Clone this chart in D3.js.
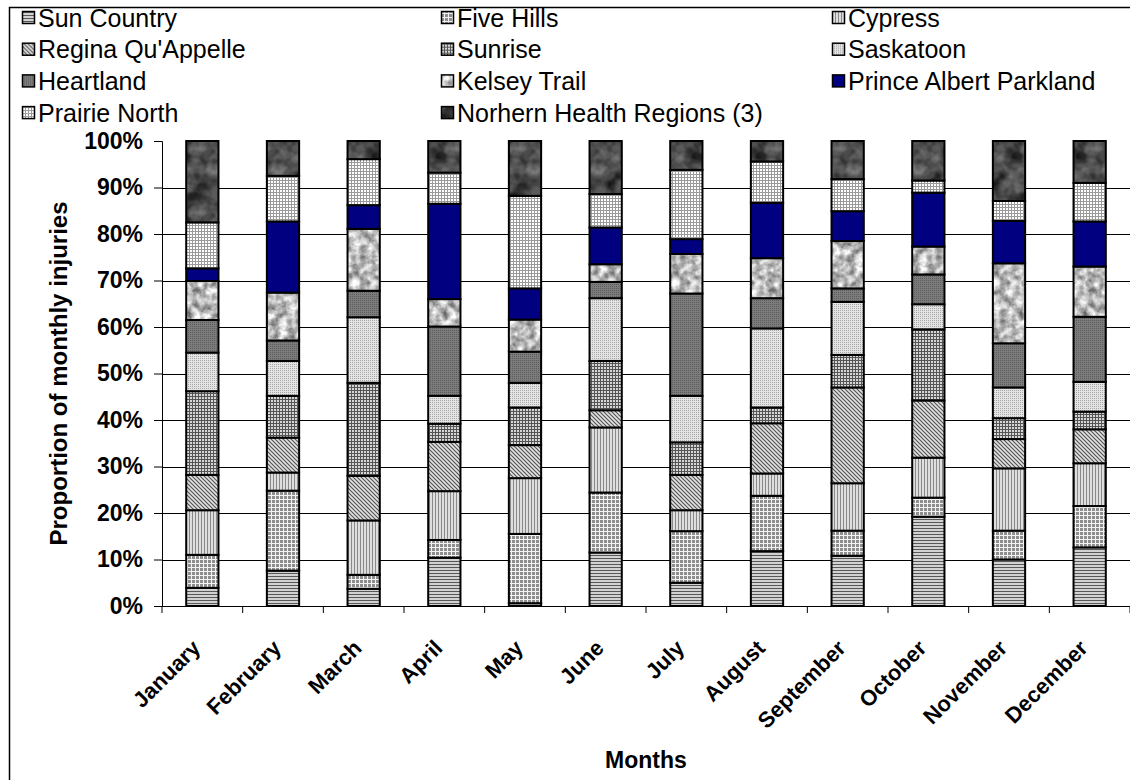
<!DOCTYPE html>
<html>
<head>
<meta charset="utf-8">
<script src="https://cdn.jsdelivr.net/npm/d3@7"></script>
<style>
  html, body { margin: 0; padding: 0; background: #fff; }
  svg { display: block; font-family: Arial, "Liberation Sans", sans-serif; }
</style>
</head>
<body>
<svg id="chart" width="1130" height="780"></svg>
<script>
// Months on the x axis
const months = ["January", "February", "March", "April", "May", "June",
  "July", "August", "September", "October", "November", "December"];

// Health regions, bottom of each stack first
const regions = ["Sun Country", "Five Hills", "Cypress", "Regina Qu'Appelle", "Sunrise",
  "Saskatoon", "Heartland", "Kelsey Trail", "Prince Albert Parkland", "Prairie North",
  "Norhern Health Regions (3)"];

// Share of monthly injuries (%) per region, January..December
const sunCountry   = [3.9, 7.6, 3.7, 10.4, 0.6, 11.5, 5.0, 11.8, 10.8, 19.2, 10.0, 12.6];
const fiveHills    = [7.1, 17.2, 3.0, 3.8, 14.9, 12.9, 11.1, 11.9, 5.4, 4.1, 6.2, 8.9];
const cypress      = [9.6, 3.9, 11.7, 10.5, 12.0, 14.0, 4.5, 4.8, 10.2, 8.6, 13.4, 9.2];
const reginaQuAppelle = [7.6, 7.5, 9.6, 10.6, 7.1, 3.7, 7.6, 10.8, 20.6, 12.3, 6.3, 7.3];
const sunrise      = [18.0, 9.0, 20.0, 3.9, 8.1, 10.6, 7.0, 3.4, 7.0, 15.3, 4.5, 3.8];
const saskatoon    = [8.3, 7.5, 14.1, 6.0, 5.3, 13.5, 10.0, 17.0, 11.4, 5.4, 6.6, 6.4];
const heartland    = [7.0, 4.4, 5.7, 14.9, 6.7, 3.5, 22.0, 6.5, 2.9, 6.4, 9.5, 14.0];
const kelseyTrail  = [8.4, 10.3, 13.3, 5.9, 6.9, 3.8, 8.5, 8.6, 10.2, 6.0, 17.2, 10.8];
const princeAlbertParkland = [2.7, 15.3, 5.1, 20.5, 6.7, 7.9, 3.2, 11.9, 6.4, 11.6, 9.1, 9.7];
const prairieNorth = [9.9, 9.8, 9.9, 6.7, 19.9, 7.2, 14.9, 8.9, 6.9, 2.6, 4.3, 8.3];
const northern     = [17.5, 7.5, 3.9, 6.8, 11.8, 11.4, 6.2, 4.4, 8.2, 8.5, 12.9, 9.0];

const seriesValues = [sunCountry, fiveHills, cypress, reginaQuAppelle, sunrise, saskatoon,
  heartland, kelseyTrail, princeAlbertParkland, prairieNorth, northern];

// Y axis ticks (percent)
const yTicks = [0, 10, 20, 30, 40, 50, 60, 70, 80, 90, 100];

// Table of rows for d3.stack
const table = months.map((m, i) => {
  const row = { month: m };
  regions.forEach((r, k) => { row[r] = seriesValues[k][i]; });
  return row;
});

const svg = d3.select("#chart");
const defs = svg.append("defs");

// ---- fill patterns, one per region ----
function tile(id, w, h, draw) {
  const p = defs.append("pattern").attr("id", id)
    .attr("patternUnits", "userSpaceOnUse").attr("width", w).attr("height", h);
  draw(p);
  return `url(#${id})`;
}
function marble(id, size, freq, seed, k, c) {
  const f = defs.append("filter").attr("id", id + "-f")
    .attr("filterUnits", "userSpaceOnUse")
    .attr("color-interpolation-filters", "sRGB")
    .attr("x", 0).attr("y", 0).attr("width", size).attr("height", size);
  f.append("feTurbulence").attr("type", "fractalNoise")
    .attr("baseFrequency", freq).attr("numOctaves", 3).attr("seed", seed)
    .attr("stitchTiles", "stitch");
  f.append("feColorMatrix").attr("type", "matrix")
    .attr("values", `${k} 0 0 0 ${c}  ${k} 0 0 0 ${c}  ${k} 0 0 0 ${c}  0 0 0 0 1`);
  return tile(id, size, size, p => {
    p.append("rect").attr("width", size).attr("height", size).attr("filter", `url(#${id}-f)`);
  });
}

const fills = [
  // Sun Country: horizontal stripes
  tile("p-sun", 3, 3, p => {
    p.append("rect").attr("width", 3).attr("height", 3).attr("fill", "#d2d2d2");
    p.append("rect").attr("width", 3).attr("height", 1).attr("fill", "#585858");
  }),
  // Five Hills: plaid grid
  tile("p-five", 4, 4, p => {
    p.append("rect").attr("width", 4).attr("height", 4).attr("fill", "#f2f2f2");
    p.append("rect").attr("width", 3).attr("height", 3).attr("fill", "#8e8e8e");
  }),
  // Cypress: vertical stripes
  tile("p-cyp", 3, 3, p => {
    p.append("rect").attr("width", 3).attr("height", 3).attr("fill", "#dedede");
    p.append("rect").attr("width", 1).attr("height", 3).attr("fill", "#8a8a8a");
  }),
  // Regina Qu'Appelle: fine diagonals
  tile("p-reg", 4, 4, p => {
    p.append("rect").attr("width", 4).attr("height", 4).attr("fill", "#e2e2e2");
    p.append("path").attr("d", "M0,0L4,4M-1,3L1,5M3,-1L5,1").attr("stroke", "#555").attr("stroke-width", 1.2);
  }),
  // Sunrise: small dark grid
  tile("p-sunr", 3, 3, p => {
    p.append("rect").attr("width", 3).attr("height", 3).attr("fill", "#555");
    p.append("rect").attr("x", 1).attr("y", 1).attr("width", 2).attr("height", 2).attr("fill", "#d6d6d6");
  }),
  // Saskatoon: light dots
  tile("p-sask", 2, 2, p => {
    p.append("rect").attr("width", 2).attr("height", 2).attr("fill", "#e4e4e4");
    p.append("rect").attr("width", 1).attr("height", 1).attr("fill", "#a6a6a6");
  }),
  // Heartland: dark dots
  tile("p-heart", 2, 2, p => {
    p.append("rect").attr("width", 2).attr("height", 2).attr("fill", "#7c7c7c");
    p.append("rect").attr("width", 1).attr("height", 1).attr("fill", "#5c5c5c");
  }),
  // Kelsey Trail: light marble
  marble("p-kel", 64, 0.12, 4, 0.95, 0.26),
  // Prince Albert Parkland: solid navy
  "#000080",
  // Prairie North: white with fine grid
  tile("p-pn", 3, 3, p => {
    p.append("rect").attr("width", 3).attr("height", 3).attr("fill", "#ffffff");
    p.append("rect").attr("width", 3).attr("height", 1).attr("fill", "#9a9a9a");
    p.append("rect").attr("width", 1).attr("height", 3).attr("fill", "#9a9a9a");
  }),
  // Northern health regions: dark marble
  marble("p-nor", 64, 0.06, 9, 0.6, -0.01)
];

// ---- outer chart border ----
svg.append("rect").attr("x", 9.5).attr("y", 7.5).attr("width", 1300).attr("height", 1000)
  .attr("fill", "none").attr("stroke", "#000").attr("stroke-width", 1.5);

// ---- scales ----
const plot = { left: 162, right: 1130, top: 141, bottom: 606 };
const x = d3.scaleBand().domain(months).range([plot.left, plot.right])
  .paddingInner(0.6).paddingOuter(0.3);
const y = d3.scaleLinear().domain([0, 100]).range([plot.bottom, plot.top]);

// gridlines
svg.append("g").selectAll("line").data(yTicks.filter(t => t > 0 && t < 100)).join("line")
  .attr("x1", plot.left).attr("x2", plot.right)
  .attr("y1", d => Math.round(y(d)) + 0.5).attr("y2", d => Math.round(y(d)) + 0.5)
  .attr("stroke", "#000").attr("stroke-width", 1);

// stacked bars
const stacked = d3.stack().keys(regions)(table);
svg.append("g").selectAll("g").data(stacked).join("g")
  .attr("fill", (d, i) => fills[i])
  .selectAll("rect").data(d => d).join("rect")
  .attr("x", d => x(d.data.month))
  .attr("width", x.bandwidth())
  .attr("y", d => y(d[1]))
  .attr("height", d => y(d[0]) - y(d[1]))
  .attr("stroke", "#000").attr("stroke-width", 2);

// y axis
const yAxis = svg.append("g").attr("transform", `translate(${plot.left},0)`)
  .call(d3.axisLeft(y).tickValues(yTicks).tickFormat(d => d + "%").tickSize(8).tickPadding(11));
yAxis.select(".domain").attr("stroke", "#000");
yAxis.selectAll("text").attr("font-size", 23).attr("font-weight", "bold")
  .attr("fill", "#000").attr("font-family", "Arial, 'Liberation Sans', sans-serif");

// x axis: ticks on band boundaries
const xAxisG = svg.append("g").attr("transform", `translate(0,${plot.bottom})`);
xAxisG.append("line").attr("x1", plot.left).attr("x2", plot.right)
  .attr("y1", 0.5).attr("y2", 0.5).attr("stroke", "#000");
const step = x.step();
xAxisG.selectAll("line.tick").data(d3.range(months.length + 1)).join("line")
  .attr("class", "tick")
  .attr("x1", i => plot.left + i * step).attr("x2", i => plot.left + i * step)
  .attr("y1", 0).attr("y2", 7).attr("stroke", "#000");
xAxisG.selectAll("text").data(months).join("text")
  .attr("transform", d => `translate(${x(d) + x.bandwidth() / 2 - 6},${38}) rotate(-45)`)
  .attr("text-anchor", "end").attr("dy", "0.35em")
  .attr("font-size", 22).attr("font-weight", "bold").text(d => d);

// axis titles
svg.append("text").attr("x", 646).attr("y", 768).attr("text-anchor", "middle")
  .attr("font-size", 23).attr("font-weight", "bold").text("Months");
svg.append("text").attr("transform", `translate(67,${(plot.top + plot.bottom) / 2}) rotate(-90)`)
  .attr("text-anchor", "middle").attr("font-size", 24).attr("font-weight", "bold")
  .text("Proportion of monthly injuries");

// legend: three columns, four rows
const legendCols = [22, 441, 832];
const legend = svg.append("g").selectAll("g").data(regions).join("g")
  .attr("transform", (d, i) => `translate(${legendCols[i % 3]},${18 + Math.floor(i / 3) * 31.7})`);
legend.append("rect").attr("x", 0.5).attr("y", -6.5).attr("width", 12).attr("height", 12)
  .attr("fill", (d, i) => fills[i]).attr("stroke", "#000").attr("stroke-width", 1.5);
legend.append("text").attr("x", 16).attr("dy", "0.35em")
  .attr("font-size", 25).text(d => d);
</script>
</body>
</html>
